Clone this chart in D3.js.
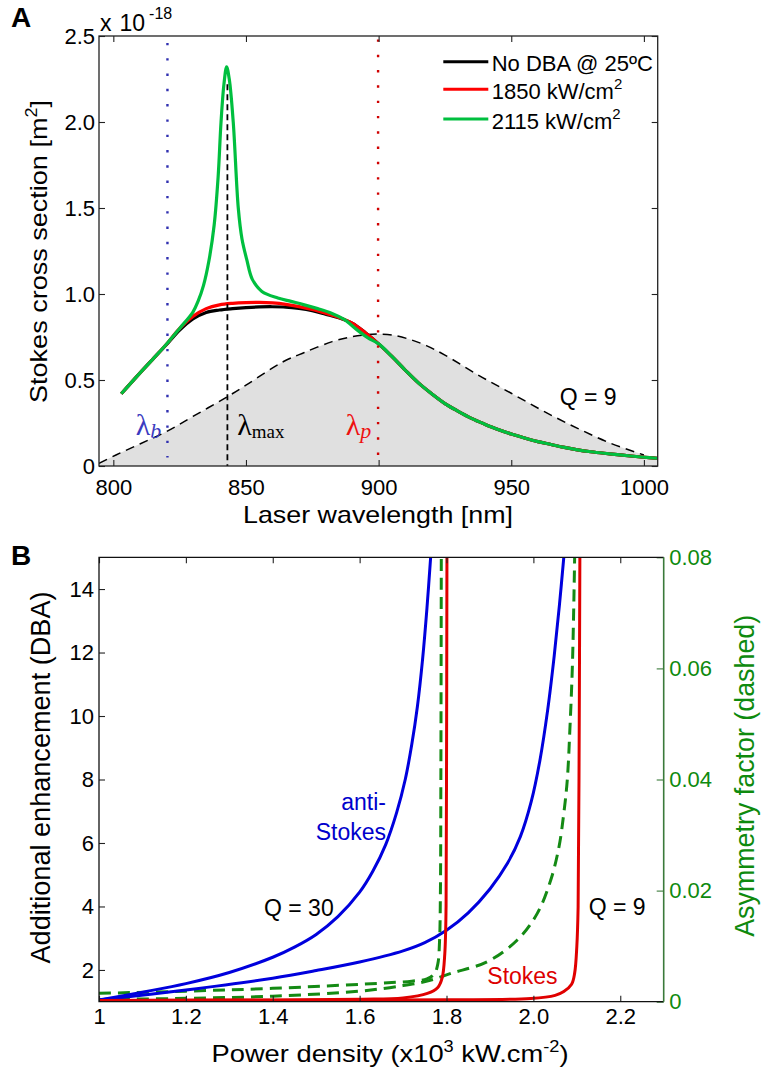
<!DOCTYPE html>
<html><head><meta charset="utf-8">
<script src="https://cdn.jsdelivr.net/npm/d3@7"></script>
<style>
body{margin:0;background:#fff}
svg{display:block}
</style>
</head><body>
<svg id="c" width="761" height="1076"></svg>
<script>
// ---------------- Panel A data ----------------
const wlA = [803,810,815,820,825,830,835,840,845,850,855,860,865,870,875,880,885,890,895,900,905,910,915,920,925,930,935,940,945,950,955,960,965,970,975,980,985,990,995,1000,1005];
const noDBA = [0.42,0.54,0.623,0.705,0.79,0.855,0.893,0.907,0.915,0.921,0.925,0.926,0.924,0.916,0.903,0.883,0.862,0.83,0.775,0.71,0.637,0.558,0.483,0.42,0.363,0.318,0.277,0.243,0.212,0.186,0.163,0.142,0.125,0.108,0.094,0.083,0.074,0.066,0.058,0.051,0.045];
const dba1850 = [0.42,0.54,0.623,0.708,0.80,0.87,0.915,0.937,0.946,0.95,0.951,0.948,0.94,0.927,0.91,0.888,0.864,0.831,0.775,0.71,0.637,0.558,0.483,0.42,0.363,0.318,0.277,0.243,0.212,0.186,0.163,0.142,0.125,0.108,0.094,0.083,0.074,0.066,0.058,0.051,0.045];
const wlGreen = [803,810,815,820,825,830,832,834,836,838,839.5,840.6,841.7,842.7,843.7,845.2,847.1,848.5,850.3,852.4,856,862,867,872,877,882,887,892,896,900,905,910,915,920,925,930,935,940,945,950,955,960,965,970,975,980,985,990,995,1000,1005];
const dba2115 = [0.42,0.54,0.623,0.708,0.80,0.895,0.96,1.05,1.19,1.4,1.68,2.0,2.22,2.32,2.25,2.0,1.5,1.32,1.2,1.085,1.015,0.977,0.957,0.937,0.915,0.89,0.852,0.79,0.745,0.71,0.637,0.558,0.483,0.42,0.363,0.318,0.277,0.243,0.212,0.186,0.163,0.142,0.125,0.108,0.094,0.083,0.074,0.066,0.058,0.051,0.045];
const wlQ9 = [794.6,801,810,820,830,843,850,864,872,882.5,890,895,900,905,912,918,925,937.5,950,962.5,975,987.5,1000,1005.2];
const q9Shape = [0.015,0.064,0.128,0.2,0.288,0.403,0.47,0.606,0.66,0.723,0.752,0.763,0.767,0.762,0.735,0.7,0.645,0.529,0.423,0.316,0.219,0.132,0.064,0.04];
const lambdaB = 820.4, lambdaMax = 843, lambdaP = 899.8;
const xTicksA = [800,850,900,950,1000];
const yTicksA = [0,0.5,1.0,1.5,2.0,2.5];
const yTickLabelsA = ["0","0.5","1.0","1.5","2.0","2.5"];
const legendLabels = ["No DBA @ 25\u00BAC","1850 kW/cm","2115 kW/cm"];

// ---------------- Panel B data ----------------
const pAS30 = [1.0,1.1,1.2,1.3,1.4,1.45,1.5,1.55,1.6,1.63,1.66,1.685,1.705,1.72,1.733,1.745,1.755,1.764];
const antiStokes30 = [1.05,1.3,1.57,1.92,2.4,2.72,3.12,3.68,4.45,5.1,5.95,6.95,8.0,9.1,10.3,11.8,13.4,15.1];
const pAS9 = [1.0,1.2,1.4,1.5,1.6,1.7,1.75,1.8,1.85,1.9,1.94,1.97,1.995,2.015,2.033,2.048,2.06,2.07];
const antiStokes9 = [1.05,1.37,1.74,1.98,2.25,2.6,2.86,3.25,3.8,4.55,5.35,6.2,7.3,8.6,10.2,11.9,13.5,15.0];
const pS30 = [1.0,1.3,1.6,1.7,1.756,1.78,1.79,1.796,1.799,1.8,1.801];
const stokes30 = [1.04,1.05,1.08,1.12,1.26,1.45,1.75,2.5,4,8,15];
const pS9 = [1.0,1.4,1.8,1.994,2.05,2.07,2.088,2.095,2.1,2.103,2.105,2.107];
const stokes9 = [1.04,1.045,1.06,1.1,1.2,1.32,1.55,1.9,2.74,4,8,15];
const pAF30 = [1.0,1.2,1.4,1.64,1.72,1.755,1.772,1.78,1.784,1.786,1.787,1.788];
const asym30 = [0.0015,0.0019,0.0024,0.0033,0.0037,0.0041,0.005,0.0068,0.011,0.02,0.04,0.08];
const pAF9 = [1.0,1.2,1.4,1.6,1.7,1.76,1.81,1.894,1.963,2.009,2.04,2.059,2.07,2.078,2.084,2.09,2.095];
const asym9 = [0.0004,0.0006,0.001,0.0019,0.0029,0.0038,0.0051,0.0072,0.0111,0.0159,0.0219,0.0279,0.0339,0.0399,0.049,0.061,0.08];
const xTicksB = [1,1.2,1.4,1.6,1.8,2.0,2.2];
const xTickLabelsB = ["1","1.2","1.4","1.6","1.8","2.0","2.2"];
const yTicksB = [2,4,6,8,10,12,14];
const yTicksBR = [0,0.02,0.04,0.06,0.08];
const yTickLabelsBR = ["0","0.02","0.04","0.06","0.08"];

const zip = (a,b) => a.map((v,i)=>[v,b[i]]);
const svg = d3.select("#c");
const defs = svg.append("defs");
const FONT = '"Liberation Sans",Arial,sans-serif';
const SERIF = '"Liberation Serif","Times New Roman",serif';
const txt = (sel) => sel.style("font-family",FONT);

// ================= Panel A =================
const A = {l:99, r:657.7, t:36, b:466};
const xA = d3.scaleLinear().domain([794.6,1005.2]).range([A.l,A.r]);
const yA = d3.scaleLinear().domain([0,2.5]).range([A.b,A.t]);
defs.append("clipPath").attr("id","clipA").append("rect")
  .attr("x",A.l).attr("y",A.t).attr("width",A.r-A.l).attr("height",A.b-A.t);
const gA = svg.append("g").attr("clip-path","url(#clipA)");
const q9pts = zip(wlQ9,q9Shape);
const smooth = d3.curveCatmullRom.alpha(0.5);
gA.append("path").datum(q9pts)
  .attr("d", d3.area().x(d=>xA(d[0])).y0(yA(0)).y1(d=>yA(d[1])).curve(smooth))
  .attr("fill","#e0e0e0");
gA.append("path").datum(q9pts.slice(0,-1))
  .attr("d", d3.line().x(d=>xA(d[0])).y(d=>yA(d[1])).curve(smooth))
  .attr("fill","none").attr("stroke","#000").attr("stroke-width",1.5).attr("stroke-dasharray","9,6");

const lineA = d3.line().x(d=>xA(d[0])).y(d=>yA(d[1])).curve(smooth);
gA.append("path").datum(zip(wlA,noDBA)).attr("d",lineA).attr("fill","none").attr("stroke","#000").attr("stroke-width",3.2);
gA.append("path").datum(zip(wlA,dba1850)).attr("d",lineA).attr("fill","none").attr("stroke","#ff0000").attr("stroke-width",3.2);
gA.append("path").datum(zip(wlGreen,dba2115)).attr("d",lineA).attr("fill","none").attr("stroke","#00bf3f").attr("stroke-width",3.2);

// vertical markers
gA.append("line").attr("x1",xA(lambdaB)).attr("x2",xA(lambdaB)).attr("y1",yA(2.46)).attr("y2",yA(0.05))
  .attr("stroke","#3030b0").attr("stroke-width",2.4).attr("stroke-dasharray","2.4,12.9");
gA.append("line").attr("x1",xA(lambdaP)).attr("x2",xA(lambdaP)).attr("y1",yA(2.48)).attr("y2",yA(0.01))
  .attr("stroke","#d00000").attr("stroke-width",2.4).attr("stroke-dasharray","2.4,12.9");
gA.append("line").attr("x1",xA(lambdaMax)).attr("x2",xA(lambdaMax)).attr("y1",yA(2.22)).attr("y2",yA(0))
  .attr("stroke","#000").attr("stroke-width",1.8).attr("stroke-dasharray","6,4");

// axes A
function styleAxis(g){ g.select(".domain").remove(); g.selectAll("line").attr("stroke","#222").attr("stroke-width",1.1);
  g.selectAll("text").style("font-family",FONT).attr("font-size",22).attr("fill","#000"); }
svg.append("g").attr("transform",`translate(0,${A.b})`)
  .call(d3.axisBottom(xA).tickValues(xTicksA).tickSize(-6).tickPadding(13.4).tickFormat(d3.format("d"))).call(styleAxis);
svg.append("g").attr("transform",`translate(0,${A.t})`)
  .call(d3.axisTop(xA).tickValues(xTicksA).tickSize(-6).tickFormat("")).call(styleAxis);
svg.append("g").attr("transform",`translate(${A.l},0)`)
  .call(d3.axisLeft(yA).tickValues(yTicksA).tickSize(-6).tickPadding(4).tickFormat((d,i)=>yTickLabelsA[i])).call(styleAxis);
svg.append("g").attr("transform",`translate(${A.r},0)`)
  .call(d3.axisRight(yA).tickValues(yTicksA).tickSize(-6).tickFormat("")).call(styleAxis);
svg.append("rect").attr("x",A.l).attr("y",A.t).attr("width",A.r-A.l).attr("height",A.b-A.t)
  .attr("fill","none").attr("stroke","#222").attr("stroke-width",1.3);

// exponent
const ex = svg.append("text").attr("x",100).attr("y",31).attr("font-size",23).call(txt);
ex.append("tspan").text("x");
ex.append("tspan").attr("dx",8).text("10");
ex.append("tspan").attr("dy",-12).attr("font-size",16).attr("dx",4).text("-18");

// legend
const legColors = ["#000","#ff0000","#00bf3f"];
const legY = [61.7,89.3,119];
legendLabels.forEach((lab,i)=>{
  svg.append("line").attr("x1",443.3).attr("x2",488.3).attr("y1",legY[i]).attr("y2",legY[i])
    .attr("stroke",legColors[i]).attr("stroke-width",3);
  const t = svg.append("text").attr("x",491.7).attr("y",legY[i]+9.5).attr("font-size",22).call(txt).text(lab);
  if(i>0) t.append("tspan").attr("dy",-10).attr("font-size",15).text("2");
});

// lambda labels
function lam(x,y,sub,color,italic){
  const t = svg.append("text").attr("x",x).attr("y",y).style("font-family",SERIF).attr("fill",color).attr("font-size",30);
  t.append("tspan").text("\u03BB");
  t.append("tspan").attr("dy",3).attr("font-size",italic?22:19).attr("font-style",italic?"italic":"normal").text(sub);
}
lam(135.7,435,"b","#3b3bbf",true);
lam(237.3,435,"max","#000",false);
lam(345.7,435,"p","#ee1111",true);
svg.append("text").attr("x",559.7).attr("y",405).attr("font-size",23).call(txt).text("Q = 9");

// axis labels A
svg.append("text").attr("x",378).attr("y",522.7).attr("text-anchor","middle").attr("font-size",24)
  .call(txt).attr("textLength",270).attr("lengthAdjust","spacingAndGlyphs").text("Laser wavelength [nm]");
const ylA = svg.append("text").attr("transform","translate(47,251.5) rotate(-90)").attr("text-anchor","middle")
  .attr("font-size",24).call(txt).attr("textLength",303).attr("lengthAdjust","spacingAndGlyphs");
ylA.append("tspan").text("Stokes cross section [m");
ylA.append("tspan").attr("dy",-10).attr("font-size",16).text("2");
ylA.append("tspan").attr("dy",10).text("]");

svg.append("text").attr("x",11).attr("y",27).attr("font-size",28).attr("font-weight","bold").call(txt).text("A");
svg.append("text").attr("x",11).attr("y",565).attr("font-size",28).attr("font-weight","bold").call(txt).text("B");

// ================= Panel B =================
const B = {l:99, r:663.7, t:557.3, b:1001.7};
const xB = d3.scaleLinear().domain([1,2.3]).range([B.l,B.r]);
const yB = d3.scaleLinear().domain([1,15]).range([B.b,B.t]);
const yBR = d3.scaleLinear().domain([0,0.08]).range([B.b,B.t]);
defs.append("clipPath").attr("id","clipB").append("rect")
  .attr("x",B.l).attr("y",B.t).attr("width",B.r-B.l).attr("height",B.b-B.t);
const gB = svg.append("g").attr("clip-path","url(#clipB)");
const lineL = d3.line().x(d=>xB(d[0])).y(d=>yB(d[1])).curve(smooth);
const lineR = d3.line().x(d=>xB(d[0])).y(d=>yBR(d[1])).curve(smooth);
const GREEN = "#148a14";
gB.append("path").datum(zip(pAF30,asym30)).attr("d",lineR).attr("fill","none").attr("stroke",GREEN).attr("stroke-width",3).attr("stroke-dasharray","12,7");
gB.append("path").datum(zip(pAF9,asym9)).attr("d",lineR).attr("fill","none").attr("stroke",GREEN).attr("stroke-width",3).attr("stroke-dasharray","12,7");
gB.append("path").datum(zip(pAS30,antiStokes30)).attr("d",lineL).attr("fill","none").attr("stroke","#0000dd").attr("stroke-width",3);
gB.append("path").datum(zip(pAS9,antiStokes9)).attr("d",lineL).attr("fill","none").attr("stroke","#0000dd").attr("stroke-width",3);
gB.append("path").datum(zip(pS30,stokes30)).attr("d",lineL).attr("fill","none").attr("stroke","#e00000").attr("stroke-width",3);
gB.append("path").datum(zip(pS9,stokes9)).attr("d",lineL).attr("fill","none").attr("stroke","#e00000").attr("stroke-width",3);

svg.append("g").attr("transform",`translate(0,${B.b})`)
  .call(d3.axisBottom(xB).tickValues(xTicksB).tickSize(-6).tickPadding(6.5).tickFormat((d,i)=>xTickLabelsB[i])).call(styleAxis);
svg.append("g").attr("transform",`translate(0,${B.t})`)
  .call(d3.axisTop(xB).tickValues(xTicksB).tickSize(-6).tickFormat("")).call(styleAxis);
svg.append("g").attr("transform",`translate(${B.l},0)`)
  .call(d3.axisLeft(yB).tickValues(yTicksB).tickSize(-6).tickPadding(5).tickFormat(d3.format("d"))).call(styleAxis);
const gR = svg.append("g").attr("transform",`translate(${B.r},0)`)
  .call(d3.axisRight(yBR).tickValues(yTicksBR).tickSize(-7).tickPadding(5.5).tickFormat((d,i)=>yTickLabelsBR[i])).call(styleAxis);
gR.selectAll("text").attr("fill","#0e8a0e");
gR.selectAll("line").attr("stroke","#3a7a3a");
svg.append("path").attr("d",`M${B.r},${B.t}H${B.l}V${B.b}H${B.r}`).attr("fill","none").attr("stroke","#111").attr("stroke-width",1.3);
svg.append("line").attr("x1",B.r).attr("x2",B.r).attr("y1",B.t).attr("y2",B.b).attr("stroke","#3a7a3a").attr("stroke-width",1.6);

// labels B
svg.append("text").attr("x",386).attr("y",810).attr("text-anchor","end").attr("font-size",23).call(txt).attr("fill","#0000cc").text("anti-");
svg.append("text").attr("x",386).attr("y",840).attr("text-anchor","end").attr("font-size",23).call(txt).attr("fill","#0000cc").text("Stokes");
svg.append("text").attr("x",264).attr("y",916).attr("font-size",23).call(txt).text("Q = 30");
svg.append("text").attr("x",588.7).attr("y",915).attr("font-size",23).call(txt).text("Q = 9");
svg.append("text").attr("x",487.3).attr("y",984).attr("font-size",23).call(txt).attr("fill","#dd0000").text("Stokes");

const xlB = svg.append("text").attr("x",390).attr("y",1062).attr("text-anchor","middle").attr("font-size",24)
  .call(txt).attr("textLength",357).attr("lengthAdjust","spacingAndGlyphs");
xlB.append("tspan").text("Power density (x10");
xlB.append("tspan").attr("dy",-10).attr("font-size",16).text("3");
xlB.append("tspan").attr("dy",10).text(" kW.cm");
xlB.append("tspan").attr("dy",-10).attr("font-size",16).text("-2");
xlB.append("tspan").attr("dy",10).text(")");

svg.append("text").attr("transform","translate(50,777.5) rotate(-90)").attr("text-anchor","middle")
  .attr("font-size",27).call(txt).attr("textLength",372).attr("lengthAdjust","spacingAndGlyphs")
  .text("Additional enhancement (DBA)");
svg.append("text").attr("transform","translate(754,775.8) rotate(-90)").attr("text-anchor","middle")
  .attr("font-size",27).call(txt).attr("fill","#0e8a0e").attr("textLength",322).attr("lengthAdjust","spacingAndGlyphs")
  .text("Asymmetry factor (dashed)");
</script>
</body></html>
